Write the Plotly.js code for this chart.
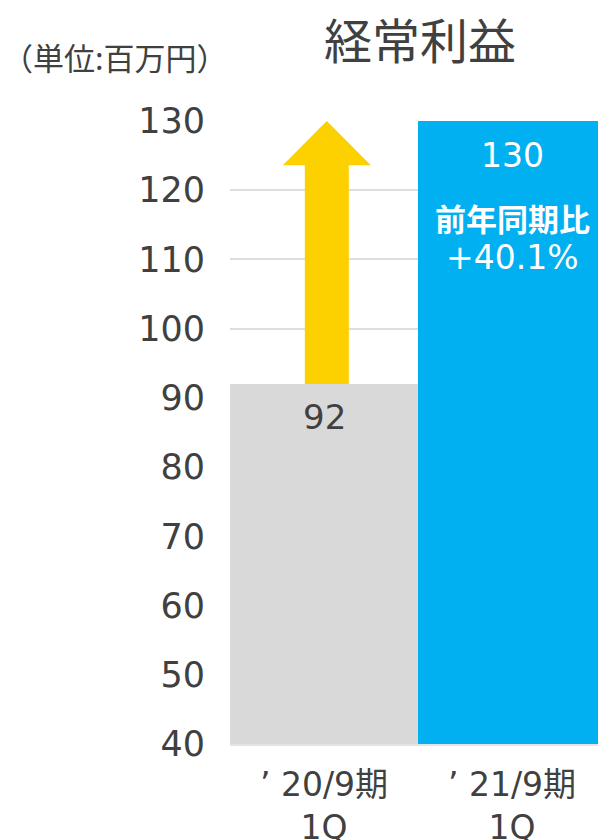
<!DOCTYPE html>
<html><head><meta charset="utf-8">
<script src="https://cdn.plot.ly/plotly-3.0.1.min.js"></script>
<style>body{margin:0;padding:0;background:#fff}#chart{width:598px;height:840px}</style>
</head><body><div id="chart"></div>
<script>
const categories = ["’ 20/9期<br>1Q", "’ 21/9期<br>1Q"];
const values = [92, 130];
const barColors = ["#D9D9D9", "#00B0F0"];
const growthTitle = "前年同期比";
const growthValue = "+40.1%";
const chartTitle = "経常利益";
const unitLabel = "（単位:百万円）";
const yTicks = [40, 50, 60, 70, 80, 90, 100, 110, 120, 130];

const LATIN = "'DejaVu Sans', 'Noto Sans CJK JP', sans-serif";
const CJK = "'Noto Sans CJK JP', 'DejaVu Sans', sans-serif";
const xs = categories.map((c, i) => i);

const W = 598, H = 840, L = 230, R = 0, T = 121, B = 96;
const BAR_PX = 188;
const plotW = W - L - R;
const xMax = -0.5 + plotW / BAR_PX;

// arrow from top of previous bar to the current value
const shaftHalf = 22 / BAR_PX, headHalf = 44 / BAR_PX, headLen = 6.4;
const x0 = xs[0] + 0.015, yStart = values[0], yEnd = values[1];
const arrowX = [x0 - shaftHalf, x0 - shaftHalf, x0 - headHalf, x0, x0 + headHalf, x0 + shaftHalf, x0 + shaftHalf, x0 - shaftHalf];
const arrowY = [yStart, yEnd - headLen, yEnd - headLen, yEnd, yEnd - headLen, yEnd - headLen, yStart, yStart];

const traces = [
  {type: 'bar', x: xs, y: values, base: 0, width: 1, marker: {color: barColors, line: {width: 0}}, hoverinfo: 'none', showlegend: false},
  {type: 'scatter', mode: 'lines', x: arrowX, y: arrowY, fill: 'toself', fillcolor: '#FDD000', line: {width: 0, color: '#FDD000'}, hoverinfo: 'none', showlegend: false}
];

const px2x = p => (p - L) / plotW;
const px2y = p => 1 + (T - p) / (H - T - B);

const annotations = [
  {x: xs[0], y: values[0], xref: 'x', yref: 'y', text: String(values[0]), showarrow: false, yanchor: 'middle', yshift: -33, font: {family: LATIN, size: 34, color: '#404040'}},
  {x: xs[1], y: values[1], xref: 'x', yref: 'y', text: String(values[1]), showarrow: false, yanchor: 'middle', yshift: -34, font: {family: LATIN, size: 33, color: '#FFFFFF'}},
  {x: xs[1], y: values[1], xref: 'x', yref: 'y', text: growthTitle, showarrow: false, yanchor: 'middle', yshift: -96, font: {family: CJK, size: 31, color: '#FFFFFF', weight: 'bold'}},
  {x: xs[1], y: values[1], xref: 'x', yref: 'y', text: growthValue, showarrow: false, yanchor: 'middle', yshift: -136, font: {family: LATIN, size: 33, color: '#FFFFFF'}},
  {x: px2x(420), y: px2y(38), xref: 'paper', yref: 'paper', xanchor: 'center', yanchor: 'middle', text: chartTitle, showarrow: false, font: {family: CJK, size: 48, color: '#404040'}},
  {x: px2x(0), y: px2y(56), xref: 'paper', yref: 'paper', xanchor: 'left', yanchor: 'middle', text: unitLabel, showarrow: false, font: {family: CJK, size: 31, color: '#404040'}}
];

const layout = {
  width: W, height: H,
  margin: {l: L, r: R, t: T, b: B, pad: 0},
  paper_bgcolor: '#fff', plot_bgcolor: '#fff',
  bargap: 0,
  xaxis: {range: [-0.5, xMax], tickvals: xs, ticktext: categories, showgrid: false, zeroline: false,
          showline: true, linecolor: '#E4E4E4', linewidth: 2, ticks: '',
          tickfont: {family: LATIN, size: 33, color: '#404040'}, ticklabelstandoff: 10, fixedrange: true},
  yaxis: {range: [40, 130], tickvals: yTicks, showgrid: true, gridcolor: '#DEDEDE', gridwidth: 2, zeroline: false,
          showline: false, ticks: '', tickfont: {family: LATIN, size: 35, color: '#404040'}, ticklabelstandoff: 24, fixedrange: true},
  annotations: annotations,
  font: {family: LATIN}
};
Plotly.newPlot('chart', traces, layout, {staticPlot: true, displayModeBar: false});
</script></body></html>
